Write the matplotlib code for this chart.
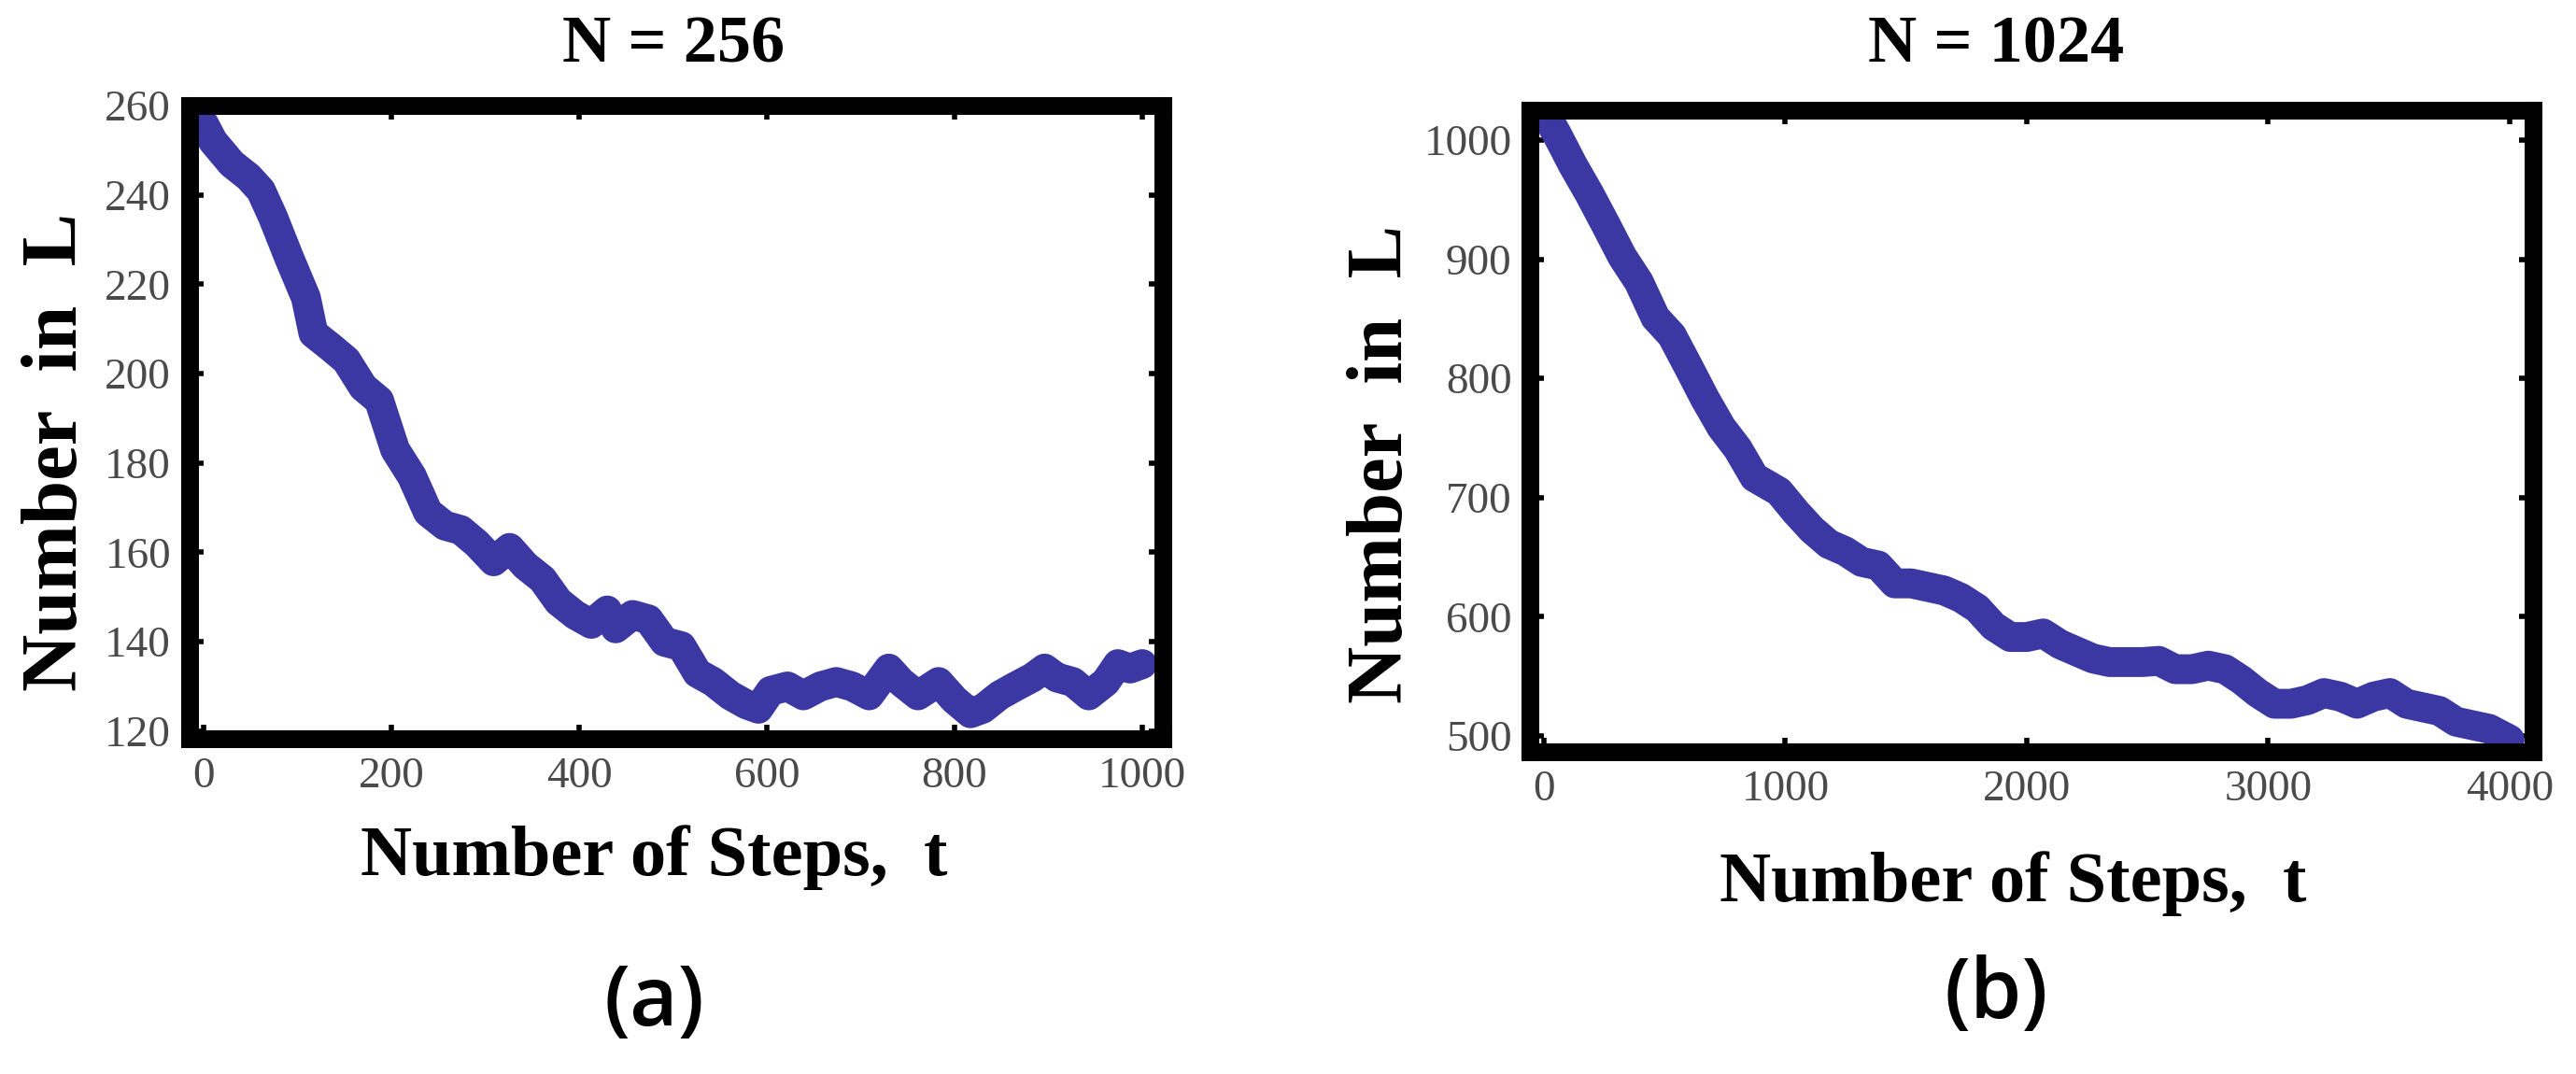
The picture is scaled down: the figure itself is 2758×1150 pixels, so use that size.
import matplotlib
matplotlib.use("Agg")
import matplotlib.pyplot as plt

# ---- data ----
# (a) N = 256
t_a = [0, 10, 30, 48, 61, 74, 91, 109, 117, 135, 152, 170, 187, 204, 222, 239,
       257, 274, 291, 309, 326, 343, 361, 378, 396, 413, 430, 439, 457, 474,
       491, 509, 526, 543, 561, 578, 591, 604, 622, 639, 657, 674, 691, 709,
       730, 743, 761, 783, 800, 817, 830, 848, 865, 883, 896, 909, 926, 943,
       961, 974, 987, 1000]
n_a = [256, 252, 247, 244, 241, 235, 226, 217, 209, 206, 203, 197, 194, 183,
       177, 169, 166, 165, 162, 158, 161, 157, 154, 149, 146, 144, 147, 143,
       146, 145, 140, 139, 133, 131, 128, 126, 125, 129, 130, 128, 130, 131,
       130, 128, 134, 131, 128, 131, 127, 124, 125, 128, 130, 132, 134, 132,
       131, 128, 131, 135, 134, 135]

# (b) N = 1024
t_b = [0, 51, 120, 188, 256, 325, 393, 462, 530, 598, 667, 735, 803, 872, 974,
       1043, 1111, 1180, 1248, 1316, 1385, 1453, 1521, 1590, 1658, 1726, 1795,
       1863, 1932, 2000, 2068, 2137, 2205, 2274, 2342, 2410, 2479, 2547, 2615,
       2684, 2752, 2821, 2889, 2957, 3026, 3094, 3162, 3231, 3299, 3368, 3436,
       3504, 3573, 3641, 3709, 3778, 3846, 3915, 4000]
n_b = [1024, 1006, 979, 955, 929, 902, 881, 851, 836, 810, 783, 759, 741, 717,
       705, 688, 673, 661, 655, 646, 643, 628, 628, 625, 622, 616, 607, 592,
       583, 583, 586, 577, 571, 565, 562, 562, 562, 563, 556, 556, 559, 556,
       547, 536, 527, 527, 530, 536, 533, 527, 533, 536, 527, 524, 521, 512,
       509, 506, 497]

xticks_a = [0, 200, 400, 600, 800, 1000]
yticks_a = [120, 140, 160, 180, 200, 220, 240, 260]
xticks_b = [0, 1000, 2000, 3000, 4000]
yticks_b = [500, 600, 700, 800, 900, 1000]

W, H = 2758, 1150
line_color = "#3b37a3"
serif = ["Liberation Serif", "DejaVu Serif"]
sans = ["Open Sans", "DejaVu Sans"]


def rect(x0, y0, x1, y1):
    # pixel box (top-left origin) -> figure fraction rect
    return [x0 / W, 1 - y1 / H, (x1 - x0) / W, (y1 - y0) / H]


def style_axes(ax, xticks, yticks, xlim, ylim):
    ax.set_xlim(*xlim)
    ax.set_ylim(*ylim)
    ax.set_xticks(xticks)
    ax.set_yticks(yticks)
    for s in ax.spines.values():
        s.set_linewidth(13.7)
        s.set_color("black")
        s.set_zorder(3)
    ax.tick_params(direction="in", length=11, width=4, color="black",
                   top=True, right=True, labelsize=34, labelcolor="#4a4a4a",
                   pad=14)
    for lab in ax.get_xticklabels() + ax.get_yticklabels():
        lab.set_family(serif)


fig = plt.figure(figsize=(W / 100, H / 100), dpi=100)

ax1 = fig.add_axes(rect(202.5, 113, 1244.5, 791))
ax1.plot(t_a, n_a, color=line_color, lw=23, solid_joinstyle="round",
         solid_capstyle="round", zorder=2)
style_axes(ax1, xticks_a, yticks_a, (-15.4, 1021.4), (118.3, 259.2))

ax2 = fig.add_axes(rect(1638, 118, 2711.5, 805))
ax2.plot(t_b, n_b, color=line_color, lw=23, solid_joinstyle="round",
         solid_capstyle="round", zorder=2)
style_axes(ax2, xticks_b, yticks_b, (-58, 4095), (486.7, 1025))

# titles, axis labels, panel letters
fig.text(721 / W, 1 - 49 / H, "N = 256", ha="center", va="center",
         family=serif, weight="bold", fontsize=52)
fig.text(2137 / W, 1 - 49 / H, "N = 1024", ha="center", va="center",
         family=serif, weight="bold", fontsize=52)

fig.text(700 / W, 1 - 918 / H, "Number of Steps,  t", ha="center",
         va="center", family=serif, weight="bold", fontsize=55)
fig.text(2155 / W, 1 - 946 / H, "Number of Steps,  t", ha="center",
         va="center", family=serif, weight="bold", fontsize=55)

fig.text(62 / W, 1 - 484 / H, "Number  in  L", ha="center", va="center",
         rotation=90, family=serif, weight="bold", fontsize=61)
fig.text(1480 / W, 1 - 497 / H, "Number  in  L", ha="center", va="center",
         rotation=90, family=serif, weight="bold", fontsize=61)

fig.text(700 / W, 1 - 1075 / H, "(a)", ha="center", va="center",
         family=sans, weight="semibold", fontsize=64)
fig.text(2137 / W, 1 - 1066 / H, "(b)", ha="center", va="center",
         family=sans, weight="semibold", fontsize=64)

fig.savefig("out.png", dpi=100, facecolor="white")
